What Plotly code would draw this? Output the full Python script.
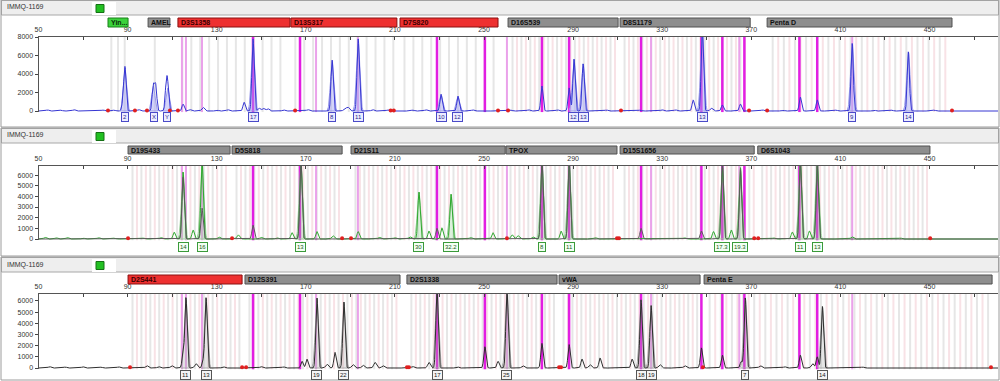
import numpy as np
import plotly.graph_objects as go

# ---------------- data ----------------
sample_name = "IMMQ-1169"
x_tick_vals = [50, 90, 130, 170, 210, 250, 290, 330, 370, 410, 450]
x_minor_vals = [70, 110, 150, 190, 230, 270, 310, 350, 390, 430, 470]
y_ticks_p1 = [0, 2000, 4000, 6000, 8000]
y_ticks_p23 = [0, 1000, 2000, 3000, 4000, 5000, 6000]

# ---- panel 1 (blue dye) ----
p1_markers = ["Yin...", "AMEL", "D3S1358", "D13S317", "D7S820", "D16S539", "D8S1179", "Penta D"]
p1_start = [81.2, 99.2, 112.6, 163.3, 212.3, 260.8, 311.1, 377.1]
p1_end = [90.2, 109.0, 162.9, 210.9, 256.3, 310.2, 369.5, 460.1]
p1_color = ["green", "grey", "red", "red", "red", "grey", "grey", "grey"]
p1_repeat = [3, 6, 4, 4, 4, 4, 4, 5]
p1_pink = [False, False, False, False, False, True, True, True]
p1_peak_pos = [54, 60, 66, 73, 79, 84, 87.9, 88.8, 95, 101.5, 102.6, 107.3, 108.0, 114.9, 118, 123.9, 130,
               135, 142.3, 146.3, 149.0, 151.0, 153.0, 160, 171, 181.8, 187.6, 189.0, 193.5, 200, 207,
               218, 224, 230.7, 238.3, 245, 262, 270, 276.0, 283, 288.2, 290.4, 294.5, 305, 320, 330,
               336, 343.9, 348.0, 352.1, 357.0, 365.1, 375, 384, 392.0, 399.6, 408, 415.3, 425, 433,
               440.5, 452]
p1_peak_h = [120, 90, 140, 80, 110, 90, 860, 4650, 150, 2700, 2750, 2400, 2500, 750, 150, 400, 120,
             140, 950, 7800, 300, 280, 250, 120, 150, 5500, 300, 400, 7800, 150, 120,
             100, 130, 1800, 1600, 120, 100, 130, 2700, 120, 2500, 5600, 5100, 110, 90, 130,
             120, 1200, 9000, 300, 650, 750, 120, 110, 1500, 1200, 100, 7300, 110, 90,
             6400, 100]
p1_allele_pos = [88.8, 102.0, 107.7, 146.3, 181.8, 193.5, 230.7, 238.3, 290.4, 294.5, 348.0, 415.3, 440.5]
p1_allele_txt = ["2", "X", "Y", "17", "8", "11", "10", "12", "12", "13", "13", "9", "14"]
p1_red_dots = [81.2, 93.3, 98.7, 109.0, 112.6, 165.2, 208.1, 209.5, 256.3, 260.8, 311.5, 369.0, 377.1, 460.1]

# ---- panel 2 (green dye) ----
p2_markers = ["D19S433", "D5S818", "D21S11", "TPOX", "D15S1656", "D6S1043"]
p2_start = [90.2, 136.9, 190.3, 259.9, 311.1, 372.9]
p2_end = [136.0, 186.3, 259.5, 309.7, 371.3, 450.2]
p2_color = ["grey", "grey", "grey", "grey", "grey", "grey"]
p2_repeat = [4, 4, 4, 4, 4, 4]
p2_pink = [True, True, True, True, True, True]
p2_green_pos = [53, 58, 63, 70, 77, 84, 97, 105, 110.9, 114.9, 119.4, 123.4, 131, 139.6, 150, 157, 163.8,
                167.8, 175.0, 182.2, 193.5, 203, 210, 216.8, 220.8, 225.3, 231.1, 235.2, 244, 254.0,
                262.6, 265.3, 272.0, 276.0, 284.6, 288.2, 300, 340, 353.0, 357.0, 361.0, 365.1,
                380, 388.4, 392.0, 396.1, 399.6, 415.3, 437]
p2_green_h = [150, 110, 130, 90, 120, 80, 90, 130, 650, 6280, 850, 7500, 200, 400, 150, 120, 600,
              7500, 700, 300, 700, 150, 120, 200, 4400, 750, 1050, 4200, 130, 600,
              400, 300, 200, 7500, 750, 7500, 120, 110, 700, 6800, 850, 6700,
              100, 650, 7500, 750, 7500, 200, 90]
p2_grey_pos = [114.9, 123.4, 146.3, 167.8, 228.9, 276.0, 288.2, 320.5, 347.6, 357.0, 365.1, 392.0, 399.6]
p2_grey_h = [5800, 2900, 1300, 7500, 1000, 7500, 7500, 1000, 750, 7500, 6500, 7500, 6800]
p2_allele_pos = [114.9, 123.4, 167.8, 220.8, 235.2, 276.0, 288.2, 357.0, 365.1, 392.0, 399.6]
p2_allele_txt = ["14", "16", "13", "30", "32.2", "8", "11", "17.3", "19.3", "11", "13"]
p2_red_dots = [90.2, 136.9, 186.3, 190.3, 260.3, 309.7, 310.6, 371.3, 373.1, 450.3]

# ---- panel 3 (black dye) ----
p3_markers = ["D2S441", "D12S391", "D2S1338", "vWA", "Penta E"]
p3_start = [90.2, 142.7, 215.4, 283.7, 348.8]
p3_end = [141.4, 212.3, 282.8, 347.0, 478.1]
p3_color = ["red", "grey", "grey", "grey", "grey"]
p3_repeat = [4, 4, 4, 4, 5]
p3_pink = [True, True, True, True, True]
p3_peak_pos = [55, 62, 70, 78, 86, 98.7, 104, 109.9, 114.9, 116.2, 120.7, 123.9, 125.2, 133, 150, 160,
               168.3, 170.5, 175.0, 179.5, 183.1, 187.1, 191.2, 195.7, 201.1, 204.7, 218, 225.3, 228.9,
               238, 250.4, 256.3, 260.3, 267.5, 276.0, 288.2, 294.0, 297.6, 302.1, 316.5, 320.5,
               325.0, 329.0, 340.2, 347.6, 357.0, 365.5, 367.3, 374.1, 385, 392.0, 397.5, 399.6,
               401.9, 420]
p3_peak_h = [120, 90, 110, 80, 100, 200, 120, 200, 1150, 6270, 400, 600, 6270, 110, 120, 100,
             600, 800, 6270, 350, 1400, 5900, 300, 250, 500, 200, 130, 500, 7000,
             120, 1900, 600, 7000, 200, 2200, 2100, 800, 300, 900, 800, 6100,
             5600, 300, 200, 1800, 1150, 600, 6270, 200, 110, 1150, 400, 1000,
             5500, 90]
p3_allele_pos = [116.2, 125.2, 175.0, 187.1, 228.9, 260.3, 320.5, 325.0, 367.3, 401.9]
p3_allele_txt = ["11", "13", "19", "22", "17", "25", "18", "19", "7", "14"]
p3_red_dots = [91.1, 141.4, 143.2, 215.4, 216.3, 283.7, 284.6, 348.3, 477.6]

# size-standard highlight lines (same for all panels)
magenta_strong = [146.3, 167.4, 228.9, 250.4, 276.0, 288.2, 320.5, 347.6, 357.0, 366.9, 391.6, 399.6]
magenta_light = [114.4, 116.2, 123.4, 174.6, 193.4, 260.3, 325.0, 364.6, 415.3]

# ---------------- geometry / style ----------------
W, H = 1000, 381
PX0, BP0, PX_PER_BP = 38.5, 50.0, 2.2275
X_RIGHT_PX = 998
X_MAX = BP0 + (X_RIGHT_PX - PX0) / PX_PER_BP
FONT = "Liberation Sans, Arial, sans-serif"

def fy(p):
    return 1 - p / H

def fx(p):
    return p / W

panels = [
    dict(top=0, zero=111, axis_top=37, top_val=8000, yticks=y_ticks_p1,
         markers=p1_markers, start=p1_start, end=p1_end, colors=p1_color, rep=p1_repeat, pink=p1_pink,
         row_y=(18, 27), label_y=117, dots=p1_red_dots,
         traces=[(p1_peak_pos, p1_peak_h, "#3636d2")],
         halo=("rgba(160,160,245,0.45)", "#9a9aea"), alleles=(p1_allele_pos, p1_allele_txt),
         label_style=("#4a4ac8", "#ececff", "#2a2a90"), peaks=(p1_peak_pos, p1_peak_h)),
    dict(top=128, zero=239, axis_top=166, top_val=6850, yticks=y_ticks_p23,
         markers=p2_markers, start=p2_start, end=p2_end, colors=p2_color, rep=p2_repeat, pink=p2_pink,
         row_y=(146, 154), label_y=247, dots=p2_red_dots,
         traces=[(p2_green_pos, p2_green_h, "#2ea82e"), (p2_grey_pos, p2_grey_h, "#5a5a5a")],
         halo=("rgba(140,210,140,0.3)", "#9ad09a"), alleles=(p2_allele_pos, p2_allele_txt),
         label_style=("#3a9a3a", "#f2fff2", "#1d5a1d"), peaks=(p2_green_pos, p2_green_h)),
    dict(top=257, zero=368, axis_top=294, top_val=6620, yticks=y_ticks_p23,
         markers=p3_markers, start=p3_start, end=p3_end, colors=p3_color, rep=p3_repeat, pink=p3_pink,
         row_y=(275, 284), label_y=375, dots=p3_red_dots,
         traces=[(p3_peak_pos, p3_peak_h, "#2e2e2e")],
         halo=("rgba(170,170,170,0.3)", "#aaaaaa"), alleles=(p3_allele_pos, p3_allele_txt),
         label_style=("#555555", "#f4f4f4", "#222222"), peaks=(p3_peak_pos, p3_peak_h)),
]

box_fill = {"red": "#ee3030", "grey": "#8e8e8e", "green": "#3bd23b"}
box_line = {"red": "#8a1010", "grey": "#505050", "green": "#1a801a"}
box_text = {"red": "#3a0000", "grey": "#111111", "green": "#0a300a"}

fig = go.Figure()
shapes = []
annotations = []
layout_axes = {}
xgrid = np.arange(50, 481, 0.08)

def peak_curve(pos, hts, sig=0.5):
    y = np.zeros_like(xgrid)
    for p, h in zip(pos, hts):
        s = sig if h > 500 else 0.6
        y += h * np.exp(-0.5 * ((xgrid - p) / s) ** 2)
    return y

for i, P in enumerate(panels):
    n = "" if i == 0 else str(i + 1)
    xa, ya = "x" + n, "y" + n
    ppu = (P["zero"] - P["axis_top"]) / P["top_val"]
    ymin = -130
    dom_bottom_px = P["zero"] + (-ymin) * ppu
    top_val = P["top_val"]

    # bins
    gx, gy, kx, ky = [], [], [], []
    for s, e, r, pk in zip(P["start"], P["end"], P["rep"], P["pink"]):
        for b in np.arange(s + r / 2, e - r / 4, r):
            gx += [b, b, None]
            gy += [ymin, top_val, None]
            if pk and b + r / 2 < e:
                kx += [b + r / 2, b + r / 2, None]
                ky += [ymin, top_val, None]
    fig.add_trace(go.Scatter(x=gx, y=gy, mode="lines", line=dict(color="#e6e6e6", width=2),
                             hoverinfo="skip", showlegend=False, xaxis=xa, yaxis=ya))
    if kx:
        fig.add_trace(go.Scatter(x=kx, y=ky, mode="lines", line=dict(color="#f8e2e6", width=2),
                                 hoverinfo="skip", showlegend=False, xaxis=xa, yaxis=ya))
    # magenta lines
    for lst, col, wd in ((magenta_light, "#eaa2ea", 2), (magenta_strong, "#e21ee2", 2.5)):
        mx, my = [], []
        for m in lst:
            mx += [m, m, None]
            my += [ymin, top_val, None]
        fig.add_trace(go.Scatter(x=mx, y=my, mode="lines", line=dict(color=col, width=wd),
                                 hoverinfo="skip", showlegend=False, xaxis=xa, yaxis=ya))
    # halos for called alleles
    ppos, phts = P["peaks"]
    for ap in P["alleles"][0]:
        j = int(np.argmin([abs(p - ap) for p in ppos]))
        p, h = ppos[j], min(phts[j], top_val * 1.2)
        xs = np.linspace(p - 2.2, p + 2.2, 40)
        ys = h * np.exp(-0.5 * ((xs - p) / 0.75) ** 2)
        fig.add_trace(go.Scatter(x=np.r_[xs, xs[::-1]], y=np.r_[ys, np.zeros_like(xs)], fill="toself",
                                 fillcolor=P["halo"][0], mode="lines",
                                 line=dict(color=P["halo"][1], width=1),
                                 hoverinfo="skip", showlegend=False, xaxis=xa, yaxis=ya))
    # traces
    for pos, hts, col in P["traces"]:
        fig.add_trace(go.Scatter(x=xgrid, y=peak_curve(pos, hts), mode="lines",
                                 line=dict(color=col, width=1), hoverinfo="skip",
                                 showlegend=False, xaxis=xa, yaxis=ya))
    # red dots
    fig.add_trace(go.Scatter(x=P["dots"], y=[60] * len(P["dots"]), mode="markers",
                             marker=dict(color="#e02020", size=4), cliponaxis=False,
                             hoverinfo="skip", showlegend=False, xaxis=xa, yaxis=ya))

    layout_axes["xaxis" + n] = dict(
        domain=[fx(PX0), fx(X_RIGHT_PX)], range=[BP0, X_MAX], anchor=ya, side="top",
        automargin=False,
        tickvals=x_tick_vals, ticktext=[str(v) for v in x_tick_vals],
        ticks="inside", ticklen=3, tickcolor="#444", tickwidth=1,
        minor=dict(tickvals=x_minor_vals, ticks="inside", ticklen=3, tickcolor="#444"),
        showline=True, linecolor="#555", linewidth=1, showgrid=False, zeroline=False,
        tickfont=dict(size=7, color="#333", family=FONT), ticklabelstandoff=1, fixedrange=True)
    layout_axes["yaxis" + n] = dict(
        domain=[fy(dom_bottom_px), fy(P["axis_top"])], range=[ymin, top_val], anchor=xa,
        automargin=False,
        tickvals=P["yticks"], ticktext=[str(v) for v in P["yticks"]],
        ticks="outside", ticklen=3, tickcolor="#444", showline=True, linecolor="#555",
        linewidth=1, showgrid=False, zeroline=False,
        tickfont=dict(size=7, color="#333", family=FONT), fixedrange=True)

    top = P["top"]
    # panel frame and header
    shapes.append(dict(type="rect", xref="paper", yref="paper", x0=fx(1.5), x1=fx(998.5),
                       y0=fy(top + 15), y1=fy(top + 0.5), fillcolor="#eeeeee",
                       line=dict(color="#a8a8a8", width=1), layer="below"))
    shapes.append(dict(type="rect", xref="paper", yref="paper", x0=fx(92), x1=fx(116),
                       y0=fy(top + 15), y1=fy(top + 2), fillcolor="#ffffff",
                       line=dict(width=0), layer="below"))
    shapes.append(dict(type="rect", xref="paper", yref="paper", x0=fx(96), x1=fx(104),
                       y0=fy(top + 12.5), y1=fy(top + 4.5), fillcolor="#22c022",
                       line=dict(color="#157015", width=1)))
    annotations.append(dict(text=sample_name, xref="paper", yref="paper", x=fx(5), y=fy(top + 7.5),
                            xanchor="left", yanchor="middle", showarrow=False,
                            font=dict(size=7, color="#333", family=FONT)))
    # marker boxes
    y0p, y1p = P["row_y"]
    for name, s, e, c in zip(P["markers"], P["start"], P["end"], P["colors"]):
        shapes.append(dict(type="rect", xref=xa, yref="paper", x0=s, x1=e, y0=fy(y1p), y1=fy(y0p),
                           fillcolor=box_fill[c], line=dict(color=box_line[c], width=1)))
        annotations.append(dict(text="<b>" + name + "</b>", xref=xa, yref="paper", x=s + 0.4,
                                y=fy((y0p + y1p) / 2), xanchor="left", yanchor="middle",
                                showarrow=False, font=dict(size=7, color=box_text[c], family=FONT)))
    # allele labels
    bc, bg, tc = P["label_style"]
    for ap, at in zip(*P["alleles"]):
        annotations.append(dict(text=at, xref=xa, yref="paper", x=ap, y=fy(P["label_y"]),
                                xanchor="center", yanchor="middle", showarrow=False,
                                bordercolor=bc, borderwidth=1, borderpad=1, bgcolor=bg,
                                font=dict(size=6, color=tc, family=FONT)))

# outer frame lines between panels
for a, b in ((0, 127), (128, 256), (257, 380)):
    shapes.append(dict(type="rect", xref="paper", yref="paper", x0=fx(1), x1=fx(999),
                       y0=fy(b), y1=fy(a), line=dict(color="#9c9c9c", width=1), layer="below"))

fig.update_layout(width=W, height=H, margin=dict(l=0, r=0, t=0, b=0),
                  paper_bgcolor="white", plot_bgcolor="white",
                  shapes=shapes, annotations=annotations, showlegend=False, **layout_axes)
fig.write_html("out.html", config={"displayModeBar": False},
               post_script="document.body.style.margin='0px';")
